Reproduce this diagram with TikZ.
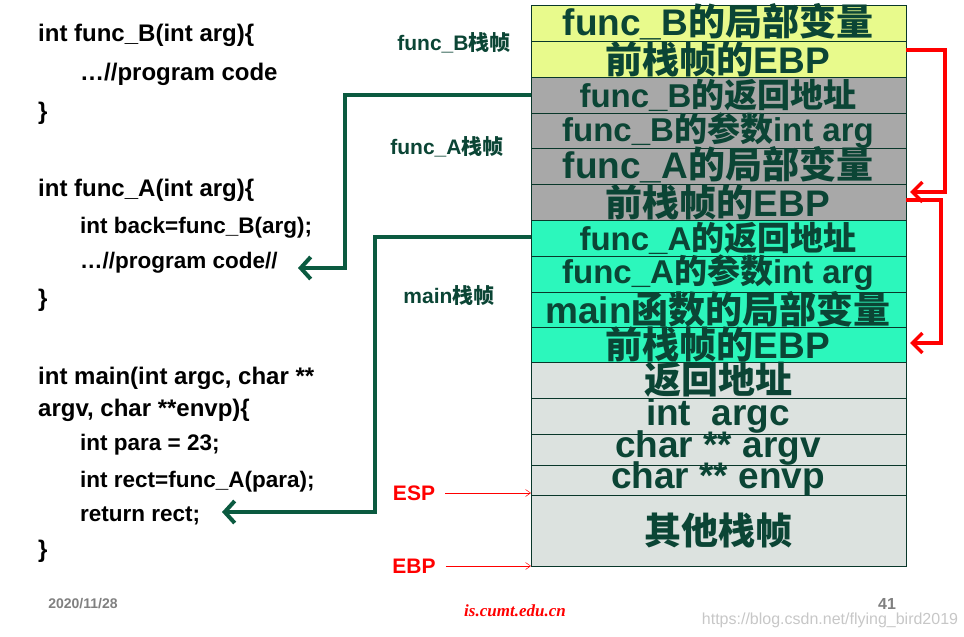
\documentclass[tikz,border=0pt]{standalone}
\usepackage{fontspec}
\setmainfont{Liberation Sans}
\newfontfamily\cjk{Noto Sans CJK SC}
\newfontfamily\serifit{Liberation Serif}
\usetikzlibrary{arrows.meta}
\definecolor{tg}{HTML}{0B4535}
\definecolor{yl}{HTML}{E8FA8C}
\definecolor{gy}{HTML}{A8A8A8}
\definecolor{tq}{HTML}{2CF7BC}
\definecolor{lg}{HTML}{DCE2DF}
\definecolor{ar}{HTML}{0B5A40}
\tikzset{
 cell/.style={draw=tg!80!black, line width=0.8pt},
 big/.style={text=tg, font=\bfseries\fontsize{37}{37}\selectfont, inner sep=0},
 code/.style={anchor=west, font=\bfseries\fontsize{24}{24}\selectfont, inner sep=0},
 scode/.style={code, font=\bfseries\fontsize{22.5}{22.5}\selectfont},
 lab/.style={font=\bfseries\fontsize{21}{21}\selectfont, text=tg, inner sep=0},
 garr/.style={draw=ar, line width=4pt, -{Straight Barb[length=10pt,width=22pt,line width=4pt]}},
 rarr/.style={draw=red, line width=3.5pt, -{Straight Barb[length=10pt,width=20pt,line width=3.5pt]}},
 tarr/.style={draw=red, line width=0.5pt, -{Straight Barb[length=5pt,width=7pt]}},
}
\begin{document}
\begin{tikzpicture}[x=1pt,y=-1pt]
\useasboundingbox (0,0) rectangle (964,637);
\def\X{531}\def\XX{906}
\foreach \a/\b/\c in {5/41/yl,41/77/yl,77/113/gy,113/148/gy,148/184/gy,184/220/gy,220/256/tq,256/292/tq,292/327/tq,327/362/tq,362/398/lg,398/434/lg,434/465/lg,465/495/lg,495/566/lg}
  \filldraw[cell, fill=\c] (\X,\a) rectangle (\XX,\b);
\node[big] (r1) at (718,22) {func\_B\cjk 的局部变量};
\node[big] (r2) at (718,59) {\cjk 前栈帧的\rmfamily EBP};
\node[big,font=\bfseries\fontsize{33}{33}\selectfont] (r3) at (718,95) {func\_B\cjk 的返回地址};
\node[big,font=\bfseries\fontsize{33}{33}\selectfont] (r4) at (718,131) {func\_B\cjk 的参数\rmfamily int arg};
\node[big] (r5) at (718,165) {func\_A\cjk 的局部变量};
\node[big] (r6) at (718,202) {\cjk 前栈帧的\rmfamily EBP};
\node[big,font=\bfseries\fontsize{33}{33}\selectfont] (r7) at (718,238) {func\_A\cjk 的返回地址};
\node[big,font=\bfseries\fontsize{33}{33}\selectfont] (r8) at (718,273) {func\_A\cjk 的参数\rmfamily int arg};
\node[big] (r9) at (718,309) {main\cjk 函数的局部变量};
\node[big] (r10) at (718,344) {\cjk 前栈帧的\rmfamily EBP};
\node[big] (r11) at (718,380) {\cjk 返回地址};
\node[big] (r12) at (718,416) {int\ \ argc};
\node[big] (r13) at (718,448) {char ** argv};
\node[big] (r14) at (718,479) {char ** envp};
\node[big] (r15) at (718,530) {\cjk 其他栈帧};
% code
\node[code] (c1) at (38,35) {int func\_B(int arg)\{};
\node[code] (c2) at (80,74) {…//program code};
\node[code] (c3) at (38,113) {\}};
\node[code] (c4) at (38,190) {int func\_A(int arg)\{};
\node[scode] (c5) at (80,228) {int back=func\_B(arg);};
\node[scode] (c6) at (80,263) {…//program code//};
\node[code] (c7) at (38,300) {\}};
\node[code] (c8) at (38,378) {int main(int argc, char **};
\node[code] (c9) at (38,410) {argv, char **envp)\{};
\node[scode] (c10) at (80,445) {int para = 23;};
\node[scode] (c11) at (80,482) {int rect=func\_A(para);};
\node[scode] (c12) at (80,516) {return rect;};
\node[code] (c13) at (38,551) {\}};
% labels
\node[lab] (l1) at (454,43) {func\_B\cjk 栈帧};
\node[lab] (l2) at (447,147) {func\_A\cjk 栈帧};
\node[lab] (l3) at (449,296) {main\cjk 栈帧};
\node[lab,text=red] (esp) at (414,493) {ESP};
\node[lab,text=red] (ebp) at (414,566) {EBP};
\coordinate (espe) at (\X,493);
\coordinate (ebpe) at (\X,566);
\draw[tarr] (esp.east)+(10,0) -- (espe);
\draw[tarr] (ebp.east)+(10,0) -- (ebpe);
% green arrows
\coordinate (g1s) at (\X,95); \coordinate (g1e) at (298,268);
\draw[garr] (g1s) -- (345,95) -- (345,268) -- (g1e);
\coordinate (g2s) at (\X,237); \coordinate (g2e) at (222,512);
\draw[garr] (g2s) -- (375,237) -- (375,512) -- (g2e);
% red arrows
\coordinate (a1) at (\XX,50); \coordinate (a2) at (910,192);
\draw[rarr] (a1) -- (945,50) -- (945,192) -- (a2);
\coordinate (b1) at (\XX,200); \coordinate (b2) at (910,343);
\draw[rarr] (b1) -- (941,200) -- (941,343) -- (b2);
% footer
\node[font=\bfseries\fontsize{14}{14}\selectfont, text=gray, inner sep=0] (d) at (83,604) {2020/11/28};
\node[font=\serifit\bfseries\itshape\fontsize{17}{17}\selectfont, text=red, inner sep=0] (u) at (515,611) {is.cumt.edu.cn};
\node[font=\bfseries\fontsize{16}{16}\selectfont, text=gray, inner sep=0] (n) at (887,604) {41};
\node[font=\fontsize{16}{16}\selectfont, text=black!22, inner sep=0] (w) at (830,620) {https://blog.csdn.net/flying\_bird2019};
\end{tikzpicture}
\end{document}
